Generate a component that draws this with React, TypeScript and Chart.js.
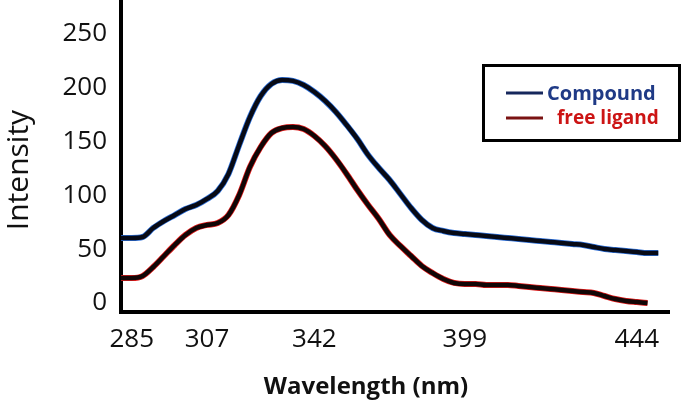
import React, { useEffect, useRef } from 'react';
import { Chart, registerables } from 'chart.js';

Chart.register(...registerables);

// Sample positions along the (non-linear) wavelength axis; only a few carry a label.
const xLabels: string[] = [
  '', '285', '', '', '', '', '', '', '307', '', '', '', '', '', '', '', '', '', '342', '',
  '', '', '', '', '', '', '', '', '', '', '', '', '399', '', '', '', '', '', '', '',
  '', '', '', '', '', '', '', '', '444', '', '', '',
];

const compound: (number | null)[] = [
  60.3, 60.3, 61.2, 69.6, 76.1, 81.6, 87.2, 90.9, 96.5, 103.9,
  119.7, 146.6, 172.5, 192.0, 203.2, 206.9, 206.0, 202.2, 195.7, 187.4,
  177.2, 165.1, 152.1, 137.3, 125.2, 114.1, 101.1, 88.1, 77.0, 69.6,
  66.8, 64.9, 64.0, 63.1, 62.2, 61.2, 60.3, 59.4, 58.4, 57.5,
  56.6, 55.7, 54.7, 53.8, 51.9, 50.1, 49.2, 48.2, 47.3, 46.4,
  46.4, null,
];

const freeLigand: (number | null)[] = [
  23.2, 23.2, 25.0, 33.4, 43.6, 53.8, 63.1, 69.6, 72.4, 74.2,
  81.6, 100.2, 126.2, 144.7, 157.7, 162.3, 163.3, 161.4, 154.9, 145.6,
  133.6, 119.7, 104.8, 90.9, 77.9, 63.1, 52.9, 43.6, 34.3, 27.8,
  22.3, 18.6, 17.6, 17.6, 16.7, 16.7, 16.7, 15.8, 14.8, 13.9,
  13.0, 12.1, 11.1, 10.2, 9.3, 6.5, 3.7, 1.9, 0.9, 0.0,
  null, null,
];

const yTicks: number[] = [0, 50, 100, 150, 200, 250];

const seriesNames = ['Compound', 'free ligand'];
const legendLineColors = ['#16275c', '#7a1212'];
const legendTextColors = ['#1f3a86', '#cc1414'];

const overlayPlugin = {
  id: 'overlay',
  afterDraw(chart: any) {
    const ctx = chart.ctx as CanvasRenderingContext2D;
    ctx.save();
    // Y axis title
    ctx.fillStyle = '#111';
    ctx.font = '30px "Open Sans"';
    ctx.textAlign = 'center';
    ctx.textBaseline = 'middle';
    ctx.translate(19, 170);
    ctx.rotate(-Math.PI / 2);
    ctx.fillText('Intensity', 0, 0);
    ctx.setTransform(1, 0, 0, 1, 0, 0);
    // X axis title
    ctx.font = 'bold 24px "Open Sans"';
    ctx.fillStyle = '#111';
    ctx.fillText('Wavelength (nm)', 366, 387);
    // Legend box
    ctx.strokeStyle = '#000';
    ctx.lineWidth = 3;
    ctx.strokeRect(483.5, 65.5, 196, 75);
    const rows = [93, 118];
    const textX = [547, 557];
    const sizes = [20, 19];
    seriesNames.forEach((name, i) => {
      ctx.strokeStyle = legendLineColors[i];
      ctx.lineWidth = 3;
      ctx.beginPath();
      ctx.moveTo(506, rows[i]);
      ctx.lineTo(543, rows[i]);
      ctx.stroke();
      ctx.fillStyle = legendTextColors[i];
      ctx.font = `bold ${sizes[i]}px "Open Sans"`;
      ctx.textAlign = 'left';
      ctx.textBaseline = 'middle';
      ctx.fillText(name, textX[i], rows[i] + 1);
    });
    ctx.restore();
  },
};

const zeroPadding = (s: any) => {
  s.paddingTop = 0;
  s.paddingBottom = 0;
  s.paddingLeft = 0;
  s.paddingRight = 0;
};

export default function App() {
  const canvasRef = useRef<HTMLCanvasElement | null>(null);

  useEffect(() => {
    const canvas = canvasRef.current;
    if (!canvas) return;
    const lineCommon = {
      pointRadius: 0,
      fill: false,
      cubicInterpolationMode: 'monotone' as const,
      spanGaps: false,
    };
    const chart = new Chart(canvas, {
      type: 'line',
      data: {
        labels: xLabels,
        datasets: [
          { ...lineCommon, label: seriesNames[0], data: compound, borderColor: '#070a16', borderWidth: 4.5, order: 0 },
          { ...lineCommon, label: seriesNames[1], data: freeLigand, borderColor: '#120606', borderWidth: 4.5, order: 0 },
          { ...lineCommon, label: 'Compound halo', data: compound, borderColor: '#2d6fd8', borderWidth: 6, order: 1 },
          { ...lineCommon, label: 'free ligand halo', data: freeLigand, borderColor: '#e01c1c', borderWidth: 6, order: 1 },
        ],
      },
      options: {
        responsive: false,
        animation: false,
        devicePixelRatio: 1,
        layout: { autoPadding: false, padding: { left: 0, right: 16, top: 2, bottom: 0 } },
        plugins: {
          legend: { display: false },
          title: { display: false },
          tooltip: { enabled: false },
        },
        scales: {
          x: {
            type: 'category',
            offset: false,
            grid: { display: false, drawTicks: false },
            border: { display: true, color: '#000', width: 4 },
            ticks: {
              autoSkip: false,
              maxRotation: 0,
              minRotation: 0,
              padding: 12,
              color: '#111',
              font: { family: '"Open Sans"', size: 26 },
              callback: (_v: any, i: number) => (xLabels[i] ? xLabels[i] : null),
            },
            afterFit: (s: any) => { s.height = 92; zeroPadding(s); },
          },
          y: {
            type: 'linear',
            min: -8.35,
            max: 279.2,
            grid: { display: false, drawTicks: false },
            border: { display: true, color: '#000', width: 4 },
            ticks: {
              padding: 14,
              color: '#111',
              font: { family: '"Open Sans"', size: 26 },
            },
            afterBuildTicks: (s: any) => { s.ticks = yTicks.map((v) => ({ value: v })); },
            afterFit: (s: any) => { s.width = 121; zeroPadding(s); },
          },
        },
      },
      plugins: [overlayPlugin],
    });
    return () => chart.destroy();
  }, []);

  return (
    <div style={{ position: 'fixed', left: 0, top: 0, width: 685, height: 404, background: '#fff' }}>
      <canvas ref={canvasRef} width={685} height={404} />
    </div>
  );
}
